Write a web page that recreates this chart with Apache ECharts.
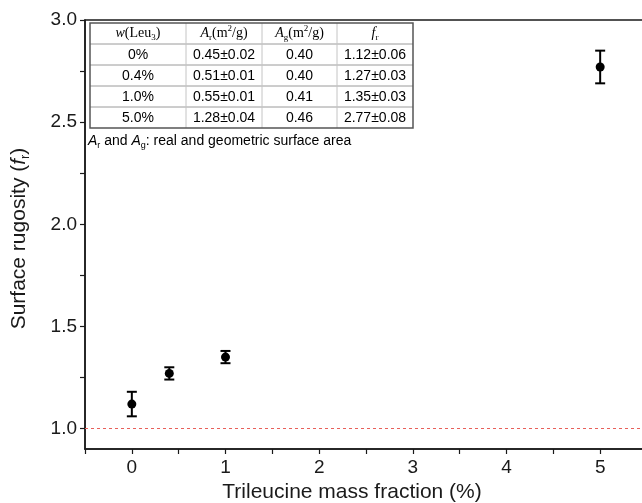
<!DOCTYPE html>
<html>
<head>
<meta charset="utf-8">
<script src="https://cdn.jsdelivr.net/npm/echarts@6/dist/echarts.min.js"></script>
<style>
  html, body { margin: 0; padding: 0; background: #fff; }
  #chart { width: 642px; height: 503px; }
</style>
</head>
<body>
<div id="chart"></div>
<script>
// Trileucine content vs. surface rugosity
const massFraction = [0, 0.4, 1.0, 5.0];
const rugosity = [1.12, 1.27, 1.35, 2.77];
const rugosityErr = [0.06, 0.03, 0.03, 0.08];

// Inset table columns
const leuLabels = ['0%', '0.4%', '1.0%', '5.0%'];
const realArea = ['0.45±0.02', '0.51±0.01', '0.55±0.01', '1.28±0.04'];
const geoArea = ['0.40', '0.40', '0.41', '0.46'];

// Axis ticks and labels
const xLabelValues = [0, 1, 2, 3, 4, 5];
const xTickValues = [-0.5, 0, 0.5, 1, 1.5, 2, 2.5, 3, 3.5, 4, 4.5, 5];
const yLabelValues = [1.0, 1.5, 2.0, 2.5, 3.0];
const yTickValues = [1.0, 1.25, 1.5, 1.75, 2.0, 2.25, 2.5, 2.75, 3.0];
const referenceLevel = 1.0;

const chart = echarts.init(document.getElementById('chart'));

const SANS = 'Liberation Sans, Arial, sans-serif';
const SERIF = 'Liberation Serif, Times New Roman, serif';

// ---- inset table built as graphic elements ----
const tbl = { x: 90, y: 23, colW: [96, 76, 75, 76], rowH: 21 };
const frStrings = rugosity.map((v, i) => v.toFixed(2) + '±' + rugosityErr[i].toFixed(2));
const rows = leuLabels.map((l, i) => [l, realArea[i], geoArea[i], frStrings[i]]);

const headerRich = {
  n: { fontFamily: SERIF, fontSize: 14, lineHeight: 18, verticalAlign: 'middle', fill: '#000' },
  i: { fontFamily: SERIF, fontSize: 14, fontStyle: 'italic', lineHeight: 18, fill: '#000' },
  sb: { fontFamily: SERIF, fontSize: 9, lineHeight: 18, verticalAlign: 'bottom', fill: '#000' },
  sp: { fontFamily: SERIF, fontSize: 9, lineHeight: 18, verticalAlign: 'top', fill: '#000' }
};
const headers = [
  '{i|w}{n|(Leu}{sb|3}{n|)}',
  '{i|A}{sb|r}{n|(m}{sp|2}{n|/g)}',
  '{i|A}{sb|g}{n|(m}{sp|2}{n|/g)}',
  '{i|f}{sb|r}'
];

const tableEls = [];
const totalW = tbl.colW.reduce((a, b) => a + b, 0);
const nRows = rows.length + 1;
const totalH = tbl.rowH * nRows;
const colX = [tbl.x];
tbl.colW.forEach(w => colX.push(colX[colX.length - 1] + w));

// inner grid lines
for (let r = 1; r < nRows; r++) {
  tableEls.push({ type: 'line', shape: { x1: tbl.x, y1: tbl.y + r * tbl.rowH, x2: tbl.x + totalW, y2: tbl.y + r * tbl.rowH },
    style: { stroke: '#9a9a9a', lineWidth: 1 } });
}
for (let c = 1; c < tbl.colW.length; c++) {
  tableEls.push({ type: 'line', shape: { x1: colX[c], y1: tbl.y, x2: colX[c], y2: tbl.y + totalH },
    style: { stroke: '#c4c4c4', lineWidth: 1 } });
}
// outer frame
tableEls.push({ type: 'rect', shape: { x: tbl.x, y: tbl.y, width: totalW, height: totalH },
  style: { fill: 'none', stroke: '#555', lineWidth: 1.5 } });

// header cells
headers.forEach((h, c) => {
  tableEls.push({ type: 'text', x: colX[c] + tbl.colW[c] / 2, y: tbl.y + tbl.rowH / 2,
    style: { text: h, rich: headerRich, align: 'center', verticalAlign: 'middle' } });
});
// body cells
rows.forEach((row, r) => {
  row.forEach((cell, c) => {
    tableEls.push({ type: 'text', x: colX[c] + tbl.colW[c] / 2, y: tbl.y + (r + 1.5) * tbl.rowH + 0.5,
      style: { text: cell, fontFamily: SANS, fontSize: 14, fill: '#000', align: 'center', verticalAlign: 'middle' } });
  });
});
// footnote
tableEls.push({ type: 'text', x: 88, y: tbl.y + totalH + 13,
  style: {
    text: '{i|A}{sb|r}{n| and }{i|A}{sb|g}{n|: real and geometric surface area}',
    verticalAlign: 'middle', align: 'left',
    rich: {
      n: { fontFamily: SANS, fontSize: 14, lineHeight: 18, fill: '#000' },
      i: { fontFamily: SANS, fontSize: 14, fontStyle: 'italic', lineHeight: 18, fill: '#000' },
      sb: { fontFamily: SANS, fontSize: 9, lineHeight: 18, verticalAlign: 'bottom', fill: '#000' }
    }
  } });

const points = massFraction.map((x, i) => [x, rugosity[i]]);
const errData = massFraction.map((x, i) => [x, rugosity[i] - rugosityErr[i], rugosity[i] + rugosityErr[i]]);

const option = {
  animation: false,
  backgroundColor: '#fff',
  grid: {
    left: 85, top: 20, right: -5, bottom: 54,
    outerBoundsMode: 'none', containLabel: false,
    show: true, borderColor: '#1a1a1a', borderWidth: 1.5, backgroundColor: 'transparent'
  },
  xAxis: {
    type: 'value', min: -0.5, max: 5.5,
    name: 'Trileucine mass fraction (%)', nameLocation: 'middle', nameGap: 32,
    nameTextStyle: { fontFamily: SANS, fontSize: 21, color: '#1a1a1a', padding: [0, 28, 0, 0] },
    axisLine: { show: true, onZero: false, lineStyle: { color: '#1a1a1a', width: 1.5 } },
    axisTick: { show: true, inside: false, length: 5, lineStyle: { color: '#1a1a1a', width: 1.2 }, customValues: xTickValues },
    axisLabel: { fontFamily: SANS, fontSize: 19, color: '#1a1a1a', margin: 9, customValues: xLabelValues,
      formatter: v => String(v) },
    splitLine: { show: false }
  },
  yAxis: {
    type: 'value', min: 0.9, max: 3.0,
    name: '{n|Surface rugosity (}{i|f}{s|r}{n|)}', nameLocation: 'middle', nameGap: 53, nameRotate: 90,
    nameTextStyle: {
      padding: [0, 8, 0, 0],
      rich: {
        n: { fontFamily: SANS, fontSize: 21, color: '#1a1a1a', lineHeight: 26 },
        i: { fontFamily: SANS, fontSize: 21, fontStyle: 'italic', color: '#1a1a1a', lineHeight: 26 },
        s: { fontFamily: SANS, fontSize: 13, color: '#1a1a1a', lineHeight: 26, verticalAlign: 'bottom' }
      }
    },
    axisLine: { show: true, onZero: false, lineStyle: { color: '#1a1a1a', width: 1.5 } },
    axisTick: { show: true, inside: false, length: 5, lineStyle: { color: '#1a1a1a', width: 1.2 }, customValues: yTickValues },
    axisLabel: { fontFamily: SANS, fontSize: 19, color: '#1a1a1a', margin: 8, customValues: yLabelValues,
      formatter: v => v.toFixed(1) },
    splitLine: { show: false }
  },
  graphic: [{ type: 'group', silent: true, z: 100, children: tableEls }],
  series: [
    {
      type: 'custom',
      name: 'error',
      data: errData,
      z: 3,
      renderItem: (params, api) => {
        const x = api.value(0);
        const lo = api.coord([x, api.value(1)]);
        const hi = api.coord([x, api.value(2)]);
        const half = 5;
        const st = { stroke: '#000', lineWidth: 2 };
        return {
          type: 'group',
          children: [
            { type: 'line', shape: { x1: lo[0], y1: lo[1], x2: hi[0], y2: hi[1] }, style: st },
            { type: 'line', shape: { x1: lo[0] - half, y1: lo[1], x2: lo[0] + half, y2: lo[1] }, style: st },
            { type: 'line', shape: { x1: hi[0] - half, y1: hi[1], x2: hi[0] + half, y2: hi[1] }, style: st }
          ]
        };
      }
    },
    {
      type: 'scatter',
      data: points,
      symbol: 'circle',
      symbolSize: 9,
      itemStyle: { color: '#000', opacity: 1 },
      emphasis: { disabled: true },
      z: 4,
      markLine: {
        silent: true,
        symbol: 'none',
        label: { show: false },
        itemStyle: { color: '#e8605a' },
        lineStyle: { color: '#e8605a', type: [3, 3], width: 1, opacity: 1 },
        emphasis: { disabled: true },
        data: [{ yAxis: referenceLevel, lineStyle: { color: '#e8605a' } }]
      }
    }
  ]
};

chart.setOption(option);
</script>
</body>
</html>
